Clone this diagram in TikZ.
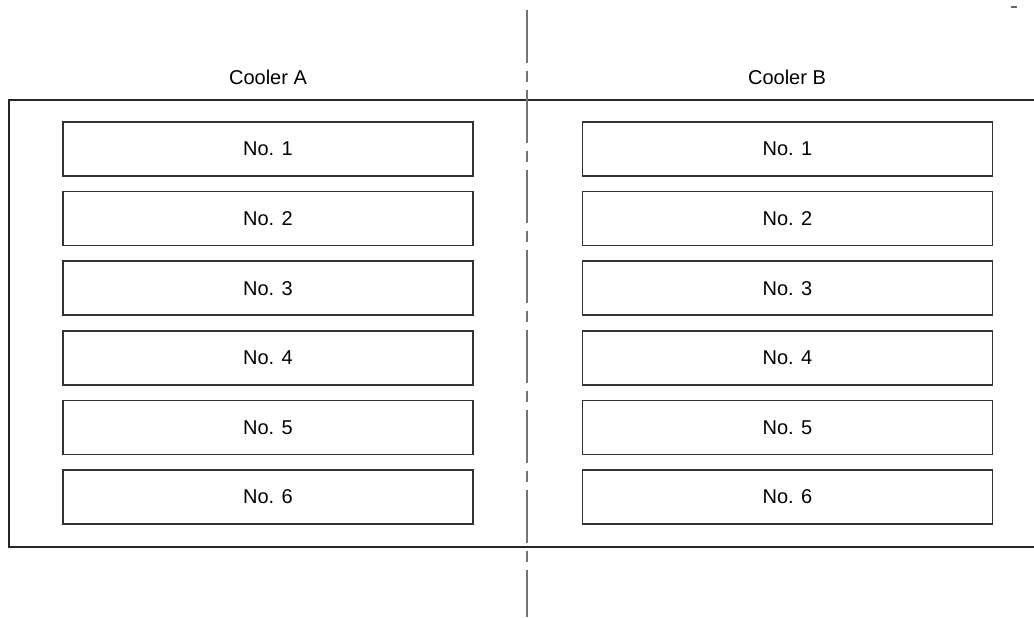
\documentclass[tikz,border=0pt]{standalone}
\usepackage{fontspec}
\setmainfont{Liberation Sans}
\usetikzlibrary{positioning}

\begin{document}
\begin{tikzpicture}[
    x=0.75pt, y=-0.75pt,
    node distance=10.6pt,
    font=\fontsize{15}{18}\selectfont,
    unit/.style={
        rectangle,
        minimum width=307.5pt,
        minimum height=40.5pt,
        inner sep=0pt,
        draw=black!80,
        line width=1.1pt
    },
    title/.style={inner sep=0pt},
    frame/.style={black!85, line width=1.5pt},
    axis/.style={black!55, line width=1.1pt, dash pattern=on 39.75pt off 6pt on 8.25pt off 6pt}
]
    \useasboundingbox (0,0) rectangle (1034,617);

    % cooler A
    \node (a1) [unit] at (268,149) {No. 1};
    \node (a2) [unit, below=of a1] {No. 2};
    \node (a3) [unit, below=of a2] {No. 3};
    \node (a4) [unit, below=of a3] {No. 4};
    \node (a5) [unit, below=of a4] {No. 5};
    \node (a6) [unit, below=of a5] {No. 6};

    % cooler B
    \node (b1) [unit] at (787.5,149) {No. 1};
    \node (b2) [unit, below=of b1] {No. 2};
    \node (b3) [unit, below=of b2] {No. 3};
    \node (b4) [unit, below=of b3] {No. 4};
    \node (b5) [unit, below=of b4] {No. 5};
    \node (b6) [unit, below=of b5] {No. 6};

    \node (coolerA) [title] at (268,77) {Cooler A};
    \node (coolerB) [title] at (787,77) {Cooler B};

    % housing and centre line
    \coordinate (topleft) at (9,100);
    \coordinate (botleft) at (9,547);
    \coordinate (topright) at (1034,100);
    \coordinate (botright) at (1034,547);
    \draw [frame] (topright) -- (topleft) -- (botleft) -- (botright);

    \coordinate (ctop) at (527,10);
    \coordinate (cbot) at (527,617);
    \draw [axis] (ctop) -- (cbot);

    \coordinate (tick) at (1011,7);
    \draw [black!60, line width=1pt] (tick) -- ++(6,0);
\end{tikzpicture}
\end{document}
